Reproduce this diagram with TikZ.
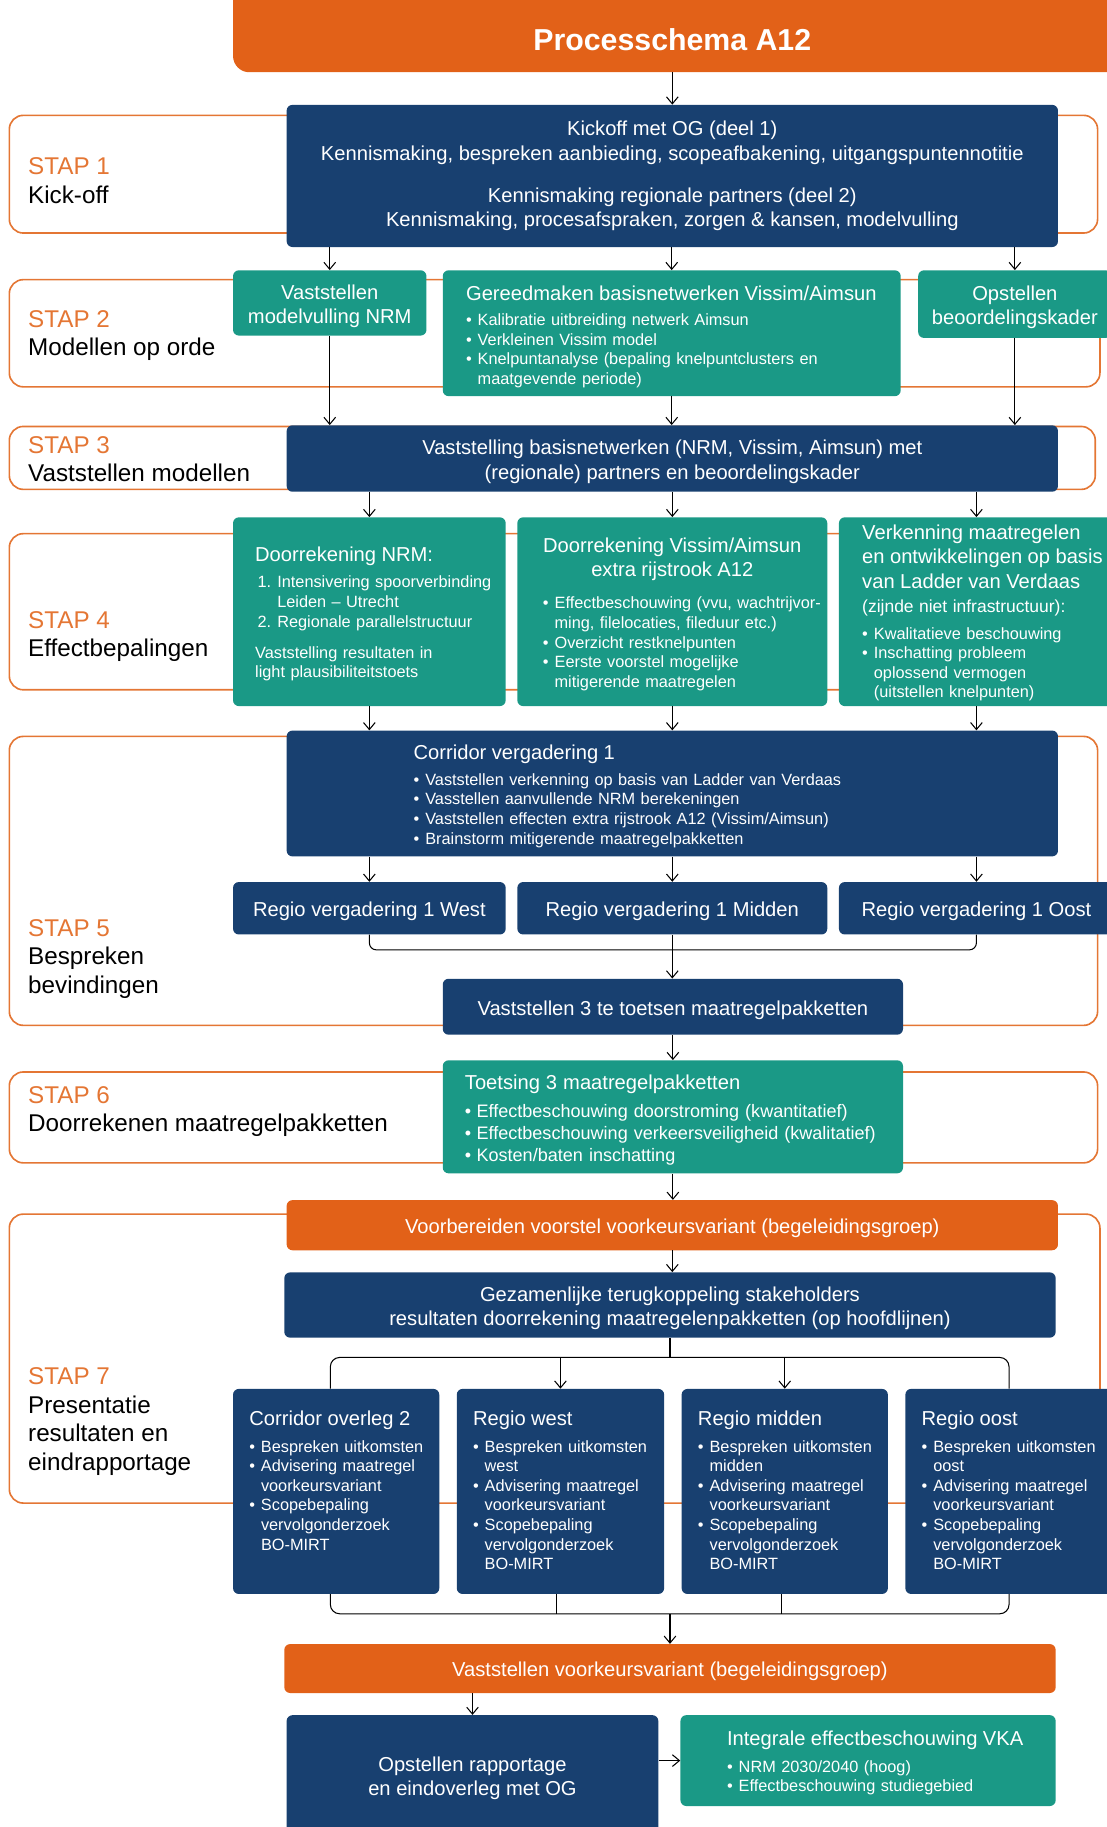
\documentclass[tikz,border=0pt]{standalone}
\usepackage{fontspec}
\setmainfont{Liberation Sans}
\usetikzlibrary{shapes, arrows.meta, positioning, calc}

\definecolor{abBlue}{RGB}{24,64,112}
\definecolor{abTeal}{RGB}{26,153,134}
\definecolor{abOrange}{RGB}{226,97,24}
\definecolor{abLine}{RGB}{228,118,52}

% font sizes (1pt = 1px of the layout)
\newcommand{\fT}{\fontsize{26}{30}\selectfont\bfseries}
\newcommand{\fA}{\fontsize{17.3}{21}\selectfont}
\newcommand{\fB}{\fontsize{14}{16.8}\selectfont}
\newcommand{\fC}{\fontsize{15.5}{19}\selectfont}
\newcommand{\fS}{\fontsize{20.8}{24.5}\selectfont}

% text helpers
\newcommand{\st}{\rule{0pt}{18pt}}
\newcommand{\stp}[1]{{\color{abLine}#1}}
\newcommand{\kop}[2]{{\fA #1\par}\vspace{#2}}
\newcommand{\bul}[1]{\par\hangindent=10pt\hangafter=1\noindent\makebox[10pt][l]{•}#1\par}
\newcommand{\nummer}[2]{\par\hangindent=19pt\hangafter=1\noindent\hspace*{2pt}\makebox[17pt][l]{#1}#2\par}

\tikzstyle{box} = [rectangle, rounded corners=5pt, inner sep=0pt, text=white, font=\fA, align=center]
\tikzstyle{bbox} = [box, fill=abBlue]
\tikzstyle{tbox} = [box, fill=abTeal]
\tikzstyle{obox} = [box, fill=abOrange]
\tikzstyle{stap} = [rectangle, draw=abLine, line width=1.4pt, rounded corners=12pt, inner sep=0pt]
\tikzstyle{stlabel} = [anchor=west, align=left, font=\fS, inner sep=0pt]
\tikzstyle{tekst} = [anchor=west, text=white, text width=500pt, align=left, inner sep=0pt, font=\fB]
\tikzstyle{titel} = [minimum height=56pt, inner sep=0pt, text=white, font=\fT]
\tikzstyle{arr} = [-{Straight Barb[length=6pt,width=10pt]}, line width=0.9pt]
\tikzstyle{lijn} = [line width=0.9pt]

\begin{document}
\begin{tikzpicture}[x=1pt, y=-1pt]
    \useasboundingbox (0,0) rectangle (950,1568);

    % Title
    \fill[abOrange, rounded corners=14pt] (200,-30) rectangle (990,62);
    \node[titel] (title) at (577,34) {Processchema A12};

    % Stage frames
    \node[stap, minimum width=934pt, minimum height=101pt] (s1) at (475,149.5) {};
    \node[stap, minimum width=936pt, minimum height=92pt] (s2) at (476,286) {};
    \node[stap, minimum width=932pt, minimum height=54pt] (s3) at (474,393) {};
    \node[stap, minimum width=936pt, minimum height=134pt] (s4) at (476,525) {};
    \node[stap, minimum width=934pt, minimum height=248pt] (s5) at (475,756) {};
    \node[stap, minimum width=934pt, minimum height=78pt] (s6) at (475,959) {};
    \node[stap, minimum width=936pt, minimum height=248pt] (s7) at (476,1166) {};

    % Stage labels
    \node[stlabel] (l1) at (24,155) {\stp{STAP 1}\\Kick-off};
    \node[stlabel] (l2) at (24,288) {\stp{STAP 2}\\Modellen op orde};
    \node[stlabel] (l3) at (24,394) {\stp{STAP 3}\\Vaststellen modellen};
    \node[stlabel] (l4) at (24,546.5) {\stp{STAP 4}\\Effectbepalingen};
    \node[stlabel] (l5) at (24,823) {\stp{STAP 5}\\Bespreken\\bevindingen};
    \node[stlabel] (l6) at (24,954) {\stp{STAP 6}\\Doorrekenen maatregelpakketten};
    \node[stlabel] (l7) at (24,1220) {\stp{STAP 7}\\Presentatie\\resultaten en\\eindrapportage};

    % Stap 1
    \node[bbox, minimum width=662pt, minimum height=122pt] (kick) at (577,151) {Kickoff met OG (deel 1)\\Kennismaking, bespreken aanbieding, scopeafbakening, uitgangspuntennotitie\\[15pt]Kennismaking regionale partners (deel 2)\\Kennismaking, procesafspraken, zorgen \& kansen, modelvulling};

    % Stap 2
    \node[tbox, minimum width=166pt, minimum height=56pt] (vmod) at (283,260) {\st Vaststellen\\modelvulling NRM};
    \node[tbox, minimum width=393pt, minimum height=108pt] (gereed) at (576.5,286) {};
    \node[tbox, minimum width=166pt, minimum height=58pt] (opst) at (871,261) {\st Opstellen\\beoordelingskader};
    \node[tekst, yshift=-3pt] (gereedt) at ([xshift=20pt]gereed.west) {\kop{Gereedmaken basisnetwerken Vissim/Aimsun}{5pt}\bul{Kalibratie uitbreiding netwerk Aimsun}\bul{Verkleinen Vissim model}\bul{Knelpuntanalyse (bepaling knelpuntclusters en\newline maatgevende periode)}};

    % Stap 3
    \node[bbox, minimum width=662pt, minimum height=57pt] (vbas) at (577,393.5) {\st Vaststelling basisnetwerken (NRM, Vissim, Aimsun) met\\(regionale) partners en beoordelingskader};

    % Stap 4
    \node[tbox, minimum width=234pt, minimum height=162pt] (nrm) at (317,525) {};
    \node[tbox, minimum width=266pt, minimum height=162pt] (viss) at (577,525) {};
    \node[tbox, minimum width=236pt, minimum height=162pt] (verk) at (838,525) {};
    \node[tekst, yshift=-2pt] (nrmt) at ([xshift=19pt]nrm.west) {\kop{Doorrekening NRM:}{6pt}\nummer{1.}{Intensivering spoorverbinding\newline Leiden – Utrecht}\nummer{2.}{Regionale parallelstructuur}\vspace{10pt}Vaststelling resultaten in\newline light plausibiliteitstoets};
    \node[tekst, yshift=-2pt] (visst) at ([xshift=22pt]viss.west) {\kop{\makebox[222pt]{Doorrekening Vissim/Aimsun}\\\makebox[222pt]{extra rijstrook A12}}{11pt}\bul{Effectbeschouwing (vvu, wachtrijvor-\newline ming, filelocaties, fileduur etc.)}\bul{Overzicht restknelpunten}\bul{Eerste voorstel mogelijke\newline mitigerende maatregelen}};
    \node[tekst, yshift=-1pt] (verkt) at ([xshift=20pt]verk.west) {\kop{Verkenning maatregelen\\en ontwikkelingen op basis\\van Ladder van Verdaas}{0pt}{\fontsize{15}{21}\selectfont (zijnde niet infrastructuur):\par}\vspace{6pt}\bul{Kwalitatieve beschouwing}\bul{Inschatting probleem\newline oplossend vermogen\newline (uitstellen knelpunten)}};

    % Stap 5
    \node[bbox, minimum width=662pt, minimum height=108pt] (corr1) at (577,681) {};
    \node[tekst, yshift=-2.5pt] (corr1t) at ([xshift=109pt]corr1.west) {\kop{Corridor vergadering 1}{5pt}\bul{Vaststellen verkenning op basis van Ladder van Verdaas}\bul{Vasstellen aanvullende NRM berekeningen}\bul{Vaststellen effecten extra rijstrook A12 (Vissim/Aimsun)}\bul{Brainstorm mitigerende maatregelpakketten}};
    \node[bbox, minimum width=234pt, minimum height=45pt] (rw1) at (317,779.5) {\st Regio vergadering 1 West};
    \node[bbox, minimum width=266pt, minimum height=45pt] (rm1) at (577,779.5) {\st Regio vergadering 1 Midden};
    \node[bbox, minimum width=236pt, minimum height=45pt] (ro1) at (838,779.5) {\st Regio vergadering 1 Oost};
    \node[bbox, minimum width=395pt, minimum height=48pt] (vast3) at (577.5,864) {\st Vaststellen 3 te toetsen maatregelpakketten};

    % Stap 6
    \node[tbox, minimum width=395pt, minimum height=97pt] (toets) at (577.5,958.5) {};
    \node[tekst, font=\fC, yshift=-3pt] (toetst) at ([xshift=19pt]toets.west) {\kop{Toetsing 3 maatregelpakketten}{5pt}\bul{Effectbeschouwing doorstroming (kwantitatief)}\bul{Effectbeschouwing verkeersveiligheid (kwalitatief)}\bul{Kosten/baten inschatting}};

    % Stap 7
    \node[obox, minimum width=662pt, minimum height=43pt] (voorb) at (577,1051.5) {\st Voorbereiden voorstel voorkeursvariant (begeleidingsgroep)};
    \node[bbox, minimum width=662pt, minimum height=56pt] (gezam) at (575,1120) {\st Gezamenlijke terugkoppeling stakeholders\\resultaten doorrekening maatregelenpakketten (op hoofdlijnen)};
    \node[bbox, minimum width=177pt, minimum height=176pt] (cor2) at (288.5,1280) {};
    \node[bbox, minimum width=178pt, minimum height=176pt] (rwest) at (481,1280) {};
    \node[bbox, minimum width=177pt, minimum height=176pt] (rmid) at (673.5,1280) {};
    \node[bbox, minimum width=178pt, minimum height=176pt] (roost) at (866,1280) {};
    \node[tekst, anchor=north west] (cor2t) at ([xshift=14pt, yshift=-19pt]cor2.north west) {\kop{Corridor overleg 2}{6pt}\bul{Bespreken uitkomsten}\bul{Advisering maatregel\newline voorkeursvariant}\bul{Scopebepaling\newline vervolgonderzoek\newline BO-MIRT}};
    \node[tekst, anchor=north west] (rwestt) at ([xshift=14pt, yshift=-19pt]rwest.north west) {\kop{Regio west}{6pt}\bul{Bespreken uitkomsten\newline west}\bul{Advisering maatregel\newline voorkeursvariant}\bul{Scopebepaling\newline vervolgonderzoek\newline BO-MIRT}};
    \node[tekst, anchor=north west] (rmidt) at ([xshift=14pt, yshift=-19pt]rmid.north west) {\kop{Regio midden}{6pt}\bul{Bespreken uitkomsten\newline midden}\bul{Advisering maatregel\newline voorkeursvariant}\bul{Scopebepaling\newline vervolgonderzoek\newline BO-MIRT}};
    \node[tekst, anchor=north west] (roostt) at ([xshift=14pt, yshift=-19pt]roost.north west) {\kop{Regio oost}{6pt}\bul{Bespreken uitkomsten\newline oost}\bul{Advisering maatregel\newline voorkeursvariant}\bul{Scopebepaling\newline vervolgonderzoek\newline BO-MIRT}};
    \node[obox, minimum width=662pt, minimum height=42pt] (vkv) at (575,1432) {\st Vaststellen voorkeursvariant (begeleidingsgroep)};
    \node[bbox, minimum width=319pt, minimum height=103pt] (rapp) at (405.5,1523.5) {\st Opstellen rapportage\\en eindoverleg met OG};
    \node[tbox, minimum width=322pt, minimum height=78pt] (integ) at (745,1511) {};
    \node[tekst, yshift=-2pt] (integt) at ([xshift=40pt]integ.west) {\kop{Integrale effectbeschouwing VKA}{6pt}\bul{NRM 2030/2040 (hoog)}\bul{Effectbeschouwing studiegebied}};

    % Connectors
    \draw[arr] (kick.north |- title.south) -- (kick.north);
    \foreach \n in {vmod, gereed, opst} {
        \draw[arr] (\n.north |- kick.south) -- (\n.north);
        \draw[arr] (\n.south) -- (\n.south |- vbas.north);
    }
    \foreach \n in {nrm, viss, verk} {
        \draw[arr] (\n.north |- vbas.south) -- (\n.north);
        \draw[arr] (\n.south) -- (\n.south |- corr1.north);
    }
    \foreach \n in {rw1, rm1, ro1}
        \draw[arr] (\n.north |- corr1.south) -- (\n.north);
    \draw[lijn, rounded corners=6pt] (rw1.south) -- ++(0,13) -| (ro1.south);
    \draw[arr] (rm1.south) -- (rm1.south |- vast3.north);
    \draw[arr] (vast3.south) -- (vast3.south |- toets.north);
    \draw[arr] (toets.south) -- (toets.south |- voorb.north);
    \draw[arr] (voorb.south) -- (voorb.south |- gezam.north);

    % split and join stap 7
    \coordinate (split) at (575,1165);
    \coordinate (join) at (575,1385);
    \draw[lijn] (gezam.south) -- (split);
    \draw[lijn, rounded corners=8pt] ([xshift=-5pt]cor2.north) |- (split) -| (roost.north);
    \draw[arr] (rwest.north |- split) -- (rwest.north);
    \draw[arr] (rmid.north |- split) -- (rmid.north);
    \draw[lijn, rounded corners=8pt] ([xshift=-5pt]cor2.south) |- (join) -| (roost.south);
    \draw[lijn] ([xshift=-3pt]rwest.south) -- ([xshift=-3pt]rwest.south |- join);
    \draw[lijn] ([xshift=-3pt]rmid.south) -- ([xshift=-3pt]rmid.south |- join);
    \draw[arr] (join) -- (join |- vkv.north);
    \draw[arr] (rapp.north |- vkv.south) -- (rapp.north);
    \draw[arr] (rapp.east |- integ.west) -- (integ.west);

\end{tikzpicture}
\end{document}
